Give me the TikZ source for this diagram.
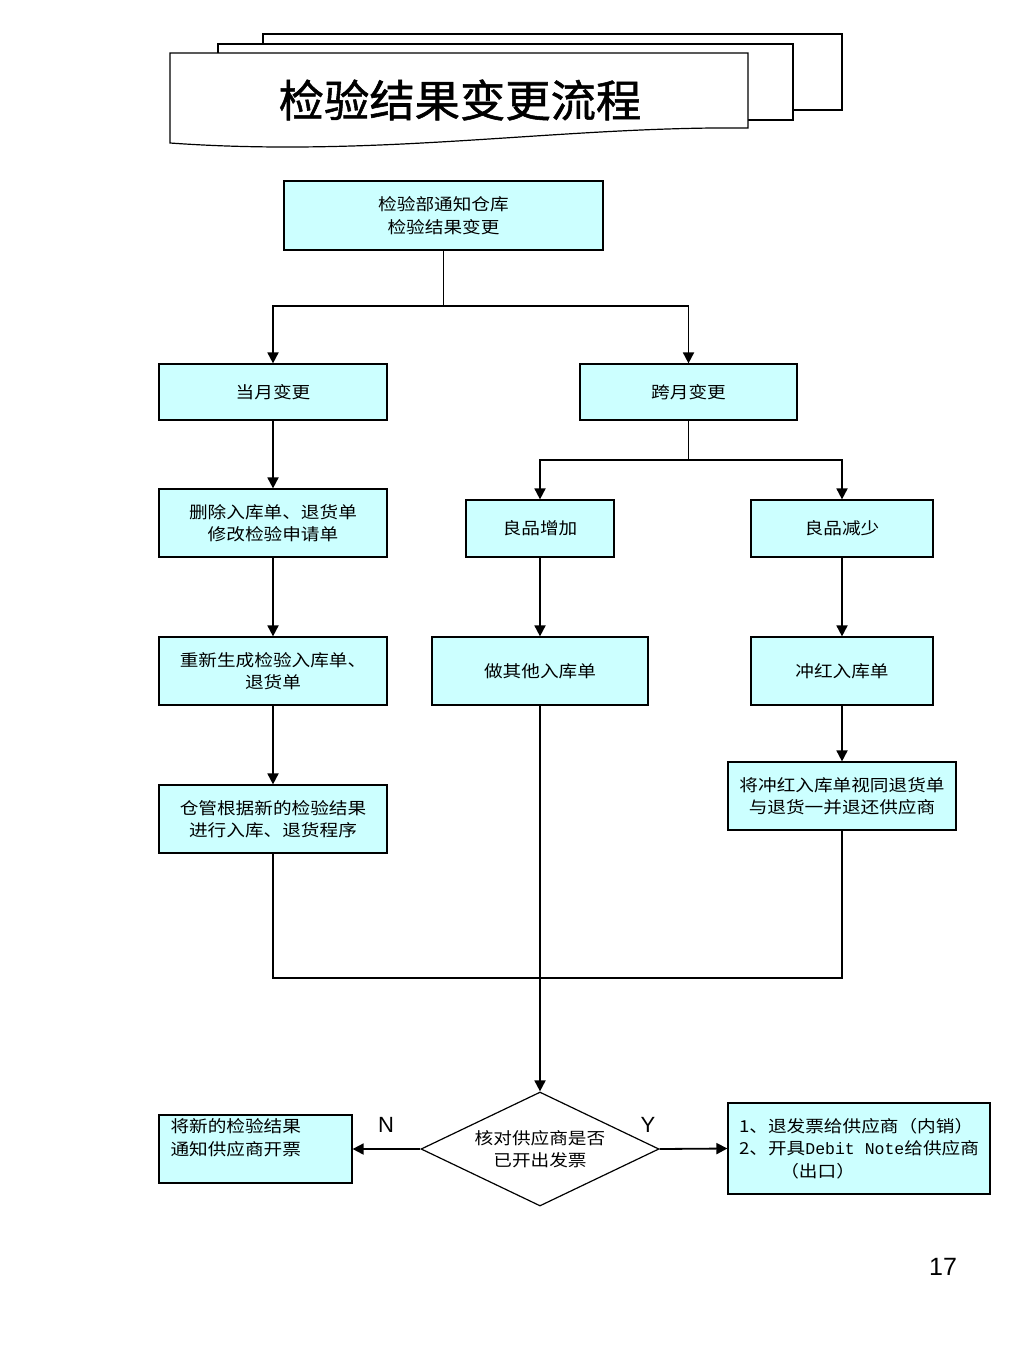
\documentclass[tikz,border=0pt]{standalone}
\usepackage{fontspec}
\setmainfont{Noto Sans CJK SC}
\newfontfamily\cjk{Noto Sans CJK SC}[FakeStretch=1.13]
\newfontfamily\titlefont{Noto Sans CJK SC}[FakeStretch=1.03,FakeBold=1.2]
\newfontfamily\dnmono{Liberation Mono}
\newfontfamily\lsans{Liberation Sans}
\usetikzlibrary{shapes.geometric,arrows.meta}
\definecolor{boxcyan}{HTML}{CCFFFF}
\tikzset{
  box/.style={draw=black, line width=1.2pt, fill=boxcyan, inner sep=0pt, align=center,
    font=\cjk\fontsize{16.5}{22.5}\selectfont},
  decision/.style={diamond, draw=black, line width=1.2pt, fill=white, inner sep=0pt, align=center,
    minimum width=238pt, minimum height=114pt, aspect=2.09,
    font=\cjk\fontsize{16.5}{22.5}\selectfont},
  conn/.style={line width=1.8pt},
  arr/.style={conn, -{Triangle[length=11pt,width=11pt]}},
  titlebox/.style={draw=black, line width=1.2pt, fill=white},
  yn/.style={font=\lsans\fontsize{22}{24}\selectfont},
}
\begin{document}
\begin{tikzpicture}[x=1pt,y=-1pt]
\useasboundingbox (0,0) rectangle (1024,1365);
\fill[white] (0,0) rectangle (1024,1365);

% title stack
\draw[titlebox] (263,34) rectangle (842,110);
\draw[titlebox] (218,44) rectangle (793,120);
\draw[titlebox] (170,53) -- (748,53) -- (748,128) .. controls (560,126) and (380,158) .. (170,143) -- cycle;
\node[font=\titlefont\fontsize{44}{48}\selectfont] (title) at (460,100) {检验结果变更流程};

% boxes
\node[box, minimum width=319pt, minimum height=69pt] (top) at (443.5,215.5) {检验部通知仓库\\检验结果变更};
\node[box, minimum width=228pt, minimum height=56pt] (m1) at (273,392) {当月变更};
\node[box, minimum width=217pt, minimum height=56pt] (m2) at (688.5,392) {跨月变更};
\node[box, minimum width=228pt, minimum height=68pt] (c1) at (273,523) {删除入库单、退货单\\修改检验申请单};
\node[box, minimum width=148pt, minimum height=57pt] (g1) at (540,528.5) {良品增加};
\node[box, minimum width=182pt, minimum height=57pt] (g2) at (842,528.5) {良品减少};
\node[box, minimum width=228pt, minimum height=68pt] (c2) at (273,671) {重新生成检验入库单、\\退货单};
\node[box, minimum width=216pt, minimum height=68pt] (o1) at (540,671) {做其他入库单};
\node[box, minimum width=182pt, minimum height=68pt] (r1) at (842,671) {冲红入库单};
\node[box, minimum width=228pt, minimum height=68pt] (c3) at (273,819) {仓管根据新的检验结果\\进行入库、退货程序};
\node[box, minimum width=228pt, minimum height=68pt] (r2) at (842,796) {将冲红入库单视同退货单\\与退货一并退还供应商};
\node[decision] (d) at (540,1149) {核对供应商是否\\已开出发票};
\node[box, minimum width=193pt, minimum height=68pt, text width=170pt, inner xsep=11.5pt, align=left] (n1) at (255.5,1149) {将新的检验结果\\通知供应商开票\\\phantom{通}};
\node[box, minimum width=262pt, minimum height=91pt, align=left] (y1) at (859,1148.5) {1、退发票给供应商（内销）\\2、开具{\dnmono Debit Note}给供应商\\\hspace*{2.5em}（出口）};

% junctions
\coordinate (j1) at (443.5,306);
\coordinate (j2) at (688.5,460);
\coordinate (j3) at (540,978);

% connectors
\draw[conn] (top.south) -- (j1);
\draw[arr] (j1) -| (m1.north);
\draw[arr] (j1) -| (m2.north);
\draw[arr] (m1.south) -- (c1.north);
\draw[conn] (m2.south) -- (j2);
\draw[arr] (j2) -| (g1.north);
\draw[arr] (j2) -| (g2.north);
\draw[arr] (c1.south) -- (c2.north);
\draw[arr] (g1.south) -- (o1.north);
\draw[arr] (g2.south) -- (r1.north);
\draw[arr] (c2.south) -- (c3.north);
\draw[arr] (r1.south) -- (r2.north);
\draw[conn] (c3.south) |- (j3);
\draw[conn] (r2.south) |- (j3);
\draw[arr] (o1.south) -- (d.north);
\draw[arr] (d.west) -- (n1.east);
\draw[arr] (d.east) -- (y1.west);

% labels
\node[yn] (lN) at (386,1125) {N};
\node[yn] (lY) at (648,1125) {Y};
\node[font=\lsans\fontsize{25}{28}\selectfont] (pg) at (943,1267) {17};
\end{tikzpicture}
\end{document}
